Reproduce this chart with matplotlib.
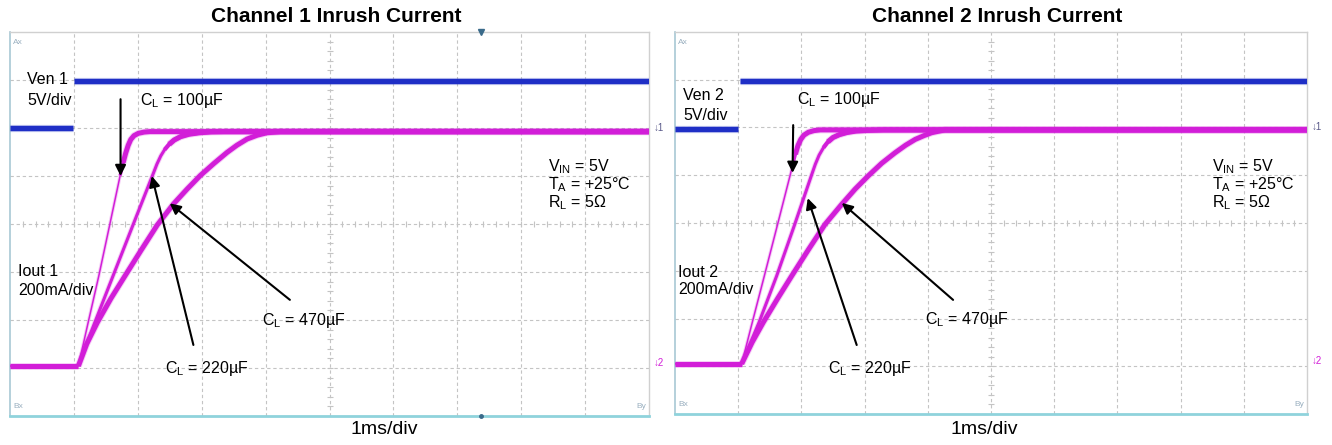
import matplotlib
matplotlib.use("Agg")
import matplotlib.pyplot as plt

plt.rcParams['font.family'] = ['Liberation Sans', 'DejaVu Sans']
plt.rcParams['mathtext.fontset'] = 'custom'
plt.rcParams['mathtext.rm'] = 'Liberation Sans'
plt.rcParams['mathtext.it'] = 'Liberation Sans'

# ---------------- data (time in ms, 1 ms/div) ----------------
titles = ["Channel 1 Inrush Current", "Channel 2 Inrush Current"]
ven_labels = ["Ven 1", "Ven 2"]
iout_labels = ["Iout 1", "Iout 2"]
cap_labels = ["100µF", "220µF", "470µF"]

# enable voltage (V): low segment and high segment
ven_low_t = [[0.0, 0.98], [0.0, 1.0]]
ven_high_t = [[1.0, 10.0], [1.03, 10.0]]
ven_low_v = [0.0, -0.2]
ven_high_v = [4.85, 4.85]

# channel 1 output current (mA)
ch1_t100 = [0.0, 1.07, 1.22, 1.39, 1.56, 1.724, 1.77, 1.81, 1.85, 1.89, 1.94, 2.01, 2.10, 2.19, 10.0]
ch1_i100 = [8, 8, 186, 384, 596, 802, 855, 895, 928, 952, 968, 978, 983, 985, 985]
ch1_t220 = [1.07, 1.322, 1.607, 1.925, 2.243, 2.30, 2.36, 2.42, 2.49, 2.57, 2.67, 2.80, 2.96, 3.15, 3.35, 10.0]
ch1_i220 = [8, 186, 380, 596, 811, 850, 884, 910, 932, 950, 964, 974, 980, 984, 985, 985]
ch1_t470 = [1.07, 1.20, 1.367, 1.58, 1.80, 2.05, 2.305, 2.56, 2.77, 2.978, 3.19, 3.396, 3.55, 3.71, 3.87, 4.02, 4.23, 10.0]
ch1_i470 = [8, 100, 190, 290, 384, 490, 596, 684, 745, 802, 852, 898, 928, 954, 970, 980, 985, 985]

# channel 2 output current (mA)
ch2_t100 = [0.0, 1.055, 1.223, 1.413, 1.623, 1.82, 1.865, 1.905, 1.945, 1.99, 2.04, 2.11, 2.20, 2.30, 10.0]
ch2_i100 = [10, 10, 184, 378, 594, 798, 846, 888, 924, 950, 968, 980, 987, 990, 990]
ch2_t220 = [1.055, 1.33, 1.608, 1.894, 2.157, 2.22, 2.28, 2.35, 2.42, 2.50, 2.60, 2.72, 2.86, 3.05, 3.3, 10.0]
ch2_i220 = [10, 184, 378, 594, 798, 846, 884, 916, 940, 958, 970, 979, 985, 988, 990, 990]
ch2_t470 = [1.055, 1.22, 1.397, 1.62, 1.846, 2.11, 2.373, 2.637, 2.85, 3.06, 3.27, 3.481, 3.65, 3.80, 3.94, 4.06, 4.27, 10.0]
ch2_i470 = [10, 100, 184, 282, 378, 488, 594, 678, 742, 798, 850, 894, 926, 950, 966, 978, 990, 990]

curves = [
    [(ch1_t100, ch1_i100), (ch1_t220, ch1_i220), (ch1_t470, ch1_i470)],
    [(ch2_t100, ch2_i100), (ch2_t220, ch2_i220), (ch2_t470, ch2_i470)],
]

# scope scaling: divisions offsets
VEN_OFFSET, VEN_SCALE = 6.0, 5.0      # 5 V/div
I_OFFSET, I_SCALE = 1.0, 200.0        # 200 mA/div

BLUE = '#1f2fc6'
MAG = '#d21ed8'
GRID = '#c4c4c4'

fig = plt.figure(figsize=(13.32, 4.45), dpi=100)
rects = [[10/1332, 29/445, 639/1332, 384/445],
         [675/1332, 31/445, 632/1332, 382/445]]

# annotation positions (in divisions)
ann = [
    dict(ven=(0.27, 7.0), vdiv=(0.27, 6.58), cl100=(2.03, 6.58), iout=(0.125, 3.0), idiv=(0.125, 2.62),
         cl470=(3.94, 2.0), cl220=(2.43, 1.0), cond=(8.42, 5.19),
         a100=((1.73, 6.6), (1.73, 5.0)), a220=((2.87, 1.48), (2.22, 5.0)),
         a470=((4.38, 2.42), (2.50, 4.43))),
    dict(ven=(0.13, 6.68), vdiv=(0.13, 6.26), cl100=(1.93, 6.58), iout=(0.05, 2.97), idiv=(0.05, 2.6),
         cl470=(3.96, 1.97), cl220=(2.42, 0.96), cond=(8.50, 5.17),
         a100=((1.87, 6.05), (1.86, 5.05)), a220=((2.875, 1.445), (2.10, 4.52)),
         a470=((4.40, 2.39), (2.64, 4.42))),
]

# trace width along each curve: rising part, settled part
rise_w = [1.1, 2.2, 3.6]
settle_from = [850, 930, 0]

for k in range(2):
    ax = fig.add_axes(rects[k])
    ax.set_xlim(0, 10)
    ax.set_ylim(0, 8)
    ax.set_xticks([])
    ax.set_yticks([])
    for s in ['top', 'right']:
        ax.spines[s].set_color('#d0d0d0')
        ax.spines[s].set_linewidth(1.0)
    ax.spines['left'].set_color('#a8c8d4')
    ax.spines['left'].set_linewidth(1.2)
    ax.spines['bottom'].set_color('#8fd3dc')
    ax.spines['bottom'].set_linewidth(2.0)

    # graticule
    for gx in range(1, 10):
        ax.axvline(gx, color=GRID, lw=0.8, ls=(0, (3, 2.5)), zorder=0)
    for gy in range(1, 8):
        ax.axhline(gy, color=GRID, lw=0.8, ls=(0, (3, 2.5)), zorder=0)
    tx = [i * 0.2 for i in range(1, 50)]
    ax.plot(tx, [4] * len(tx), ls='none', marker='|', ms=4, color=GRID, mew=0.8, zorder=0)
    ty = [i * 0.2 for i in range(1, 40)]
    ax.plot([5] * len(ty), ty, ls='none', marker='_', ms=4, color=GRID, mew=0.8, zorder=0)

    # enable trace
    vl = VEN_OFFSET + ven_low_v[k] / VEN_SCALE
    vh = VEN_OFFSET + ven_high_v[k] / VEN_SCALE
    for tt, vv in ((ven_low_t[k], vl), (ven_high_t[k], vh)):
        ax.plot(tt, [vv, vv], color=BLUE, lw=5.2, alpha=0.25, solid_capstyle='butt', zorder=3)
        ax.plot(tt, [vv, vv], color=BLUE, lw=3.8, solid_capstyle='butt', zorder=3)

    # current traces
    for j, (t, i) in enumerate(curves[k]):
        y = [I_OFFSET + v / I_SCALE for v in i]
        ax.plot(t, y, color=MAG, lw=rise_w[j] + 1.4, alpha=0.22, solid_joinstyle='round',
                solid_capstyle='butt', zorder=3)
        ax.plot(t, y, color=MAG, lw=rise_w[j], solid_joinstyle='round', solid_capstyle='butt', zorder=4)
        n = next(idx for idx, v in enumerate(i) if v >= settle_from[j])
        if n > 0:
            ax.plot(t[n - 1:], y[n - 1:], color=MAG, lw=(rise_w[j] + 3.6) / 2,
                    solid_joinstyle='round', solid_capstyle='butt', zorder=4)
            ax.plot(t[n:], y[n:], color=MAG, lw=3.6, solid_joinstyle='round',
                    solid_capstyle='butt', zorder=4)
            ax.plot(t[n:], y[n:], color=MAG, lw=5.0, alpha=0.22, solid_capstyle='butt', zorder=3)
    t0 = curves[k][0][0]
    y0 = [I_OFFSET + v / I_SCALE for v in curves[k][0][1]]
    ax.plot(t0[:2], y0[:2], color=MAG, lw=3.6, solid_capstyle='butt', zorder=4)
    ax.plot(t0[:2], y0[:2], color=MAG, lw=5.0, alpha=0.22, solid_capstyle='butt', zorder=3)

    a = ann[k]
    fs = 11.5
    ax.text(*a['ven'], ven_labels[k], fontsize=fs, va='center', ha='left')
    ax.text(*a['vdiv'], "5V/div", fontsize=fs, va='center', ha='left')
    ax.text(*a['iout'], iout_labels[k], fontsize=fs, va='center', ha='left')
    ax.text(*a['idiv'], "200mA/div", fontsize=fs, va='center', ha='left')
    ax.text(*a['cl100'], r"C$_{\mathrm{L}}$ = " + cap_labels[0], fontsize=fs, va='center', ha='left')
    ax.text(*a['cl220'], r"C$_{\mathrm{L}}$ = " + cap_labels[1], fontsize=fs, va='center', ha='left')
    ax.text(*a['cl470'], r"C$_{\mathrm{L}}$ = " + cap_labels[2], fontsize=fs, va='center', ha='left')
    cx, cy = a['cond']
    ax.text(cx, cy, r"V$_{\mathrm{IN}}$ = 5V", fontsize=fs, va='center', ha='left')
    ax.text(cx, cy - 0.375, r"T$_{\mathrm{A}}$ = +25°C", fontsize=fs, va='center', ha='left')
    ax.text(cx, cy - 0.75, r"R$_{\mathrm{L}}$ = 5Ω", fontsize=fs, va='center', ha='left')
    for key in ['a100', 'a220', 'a470']:
        tail, head = a[key]
        ax.annotate('', xy=head, xytext=tail,
                    arrowprops=dict(arrowstyle='-|>', color='black', lw=1.5,
                                    mutation_scale=16, shrinkA=0, shrinkB=0), zorder=6)

    # scope markers
    ax.text(0.05, 7.85, "Ax", fontsize=6, color='#9ab0c0', va='top', ha='left')
    ax.text(0.05, 0.12, "Bx", fontsize=6, color='#9ab0c0', va='bottom', ha='left')
    ax.text(9.95, 0.12, "By", fontsize=6, color='#9ab0c0', va='bottom', ha='right')
    ax.text(10.08, 6.0, "↓1", fontsize=7, color='#5a5a8a', va='center', ha='left', clip_on=False)
    ax.text(10.08, 1.1, "↓2", fontsize=7, color=MAG, va='center', ha='left', clip_on=False)
    if k == 0:
        ax.plot([7.37], [8.0], marker='v', ms=4, color='#3a6a8a', clip_on=False, zorder=7)
        ax.plot([7.37], [0.0], marker='o', ms=2.5, color='#3a6a8a', clip_on=False, zorder=7)

fig.text(336/1332, 1 - 16/445, titles[0], fontsize=15, fontweight='bold', ha='center', va='center')
fig.text(997/1332, 1 - 16/445, titles[1], fontsize=15, fontweight='bold', ha='center', va='center')
fig.text(384/1332, 1 - 430/445, "1ms/div", fontsize=14, ha='center', va='center')
fig.text(984/1332, 1 - 430/445, "1ms/div", fontsize=14, ha='center', va='center')

fig.savefig("out.png", dpi=100, facecolor='white')
